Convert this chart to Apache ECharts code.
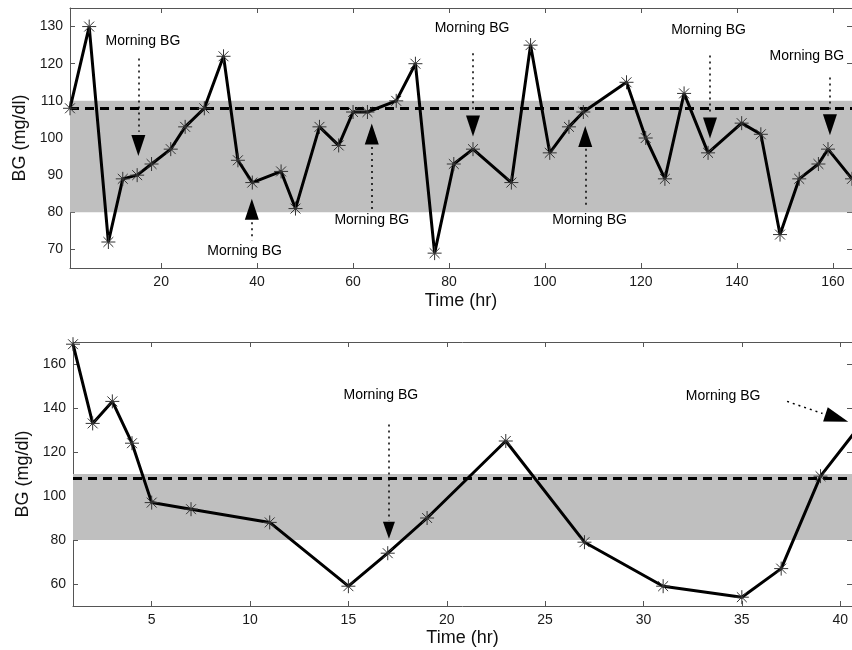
<!DOCTYPE html>
<html>
<head>
<meta charset="utf-8">
<script src="https://cdn.jsdelivr.net/npm/echarts@6/dist/echarts.min.js"></script>
<style>html,body{margin:0;padding:0;background:#fff;}#c{width:852px;height:650px;}</style>
</head>
<body>
<div id="c"></div>
<script>
// ---------- Data: top panel ----------
const topHours = [1,5,9,12,15,18,22,25,29,33,36,39,45,48,53,57,60,63,69,73,77,81,85,93,97,101,105,108,117,121,125,129,134,141,145,149,153,157,159,164];
const topBG    = [108,130,72,89,90,93,97,103,108,122,94,88,91,81,103,98,107,107,110,120,69,93,97,88,125,96,103,107,115,100,89,112,96,104,101,74,89,93,97,89];
const topXTicks = [20,40,60,80,100,120,140,160];
const topYTicks = [70,80,90,100,110,120,130];

// ---------- Data: bottom panel ----------
const botHours = [1,2,3,4,5,7,11,15,17,19,23,27,31,35,37,39,41];
const botBG    = [169,133,143,124,97,94,88,59,74,90,125,79,59,54,67,109,132];
const botXTicks = [5,10,15,20,25,30,35,40];
const botYTicks = [60,80,100,120,140,160];

// target band and mean
const bandLow = 80, bandHigh = 110, meanBG = 108;

// ---------- Annotations (data coordinates) ----------
const annLabel = 'Morning BG';
const topArrowX   = [15.25, 38.9, 63.9, 85.0, 108.4, 134.4, 159.4];
const topArrowRot = [180, 0, 0, 180, 0, 180, 180];
const topHeadY    = [98.0, 80.8, 101.1, 103.2, 100.4, 102.7, 103.6];
const topStemFrom = [121.4, 77.3, 97.6, 122.8, 97.1, 122.2, 116.3];
const topStemTo   = [101.7, 72.4, 80.8, 107.1, 81.6, 106.5, 107.0];
const topTextX    = [16.2, 37.4, 63.9, 84.8, 109.3, 134.1, 154.6];
const topTextY    = [126.0, 69.5, 77.9, 129.5, 77.9, 129.0, 122.0];

const botHeads = [[17.06, 84.4, 180, 12, 17], [39.83, 135.4, -108, 15, 24]];
const botStems = [[[17.06, 132.5], [17.06, 88.7]], [[37.3, 143.0], [39.1, 137.5]]];
const botTexts = [[16.65, 145.7], [34.05, 145.3]];

// ---------- Styling ----------
const FONT = 'Liberation Sans';
const AXC = '#555';
const star = 'path://M0,-10L0,10M-10,0L10,0M-7.07,-7.07L7.07,7.07M-7.07,7.07L7.07,-7.07';

function pairs(xs, ys) { return xs.map((x, i) => [x, ys[i]]); }

function xAxes(gi, min, max, ticks, nameGap) {
  return [
    { type: 'value', gridIndex: gi, position: 'bottom', min, max,
      name: 'Time (hr)', nameLocation: 'middle', nameGap,
      nameTextStyle: { fontFamily: FONT, fontSize: 18, color: '#111' },
      axisLine: { show: true, lineStyle: { color: AXC, width: 1 } },
      axisTick: { show: true, inside: true, length: 5, customValues: ticks, lineStyle: { color: AXC } },
      axisLabel: { show: true, customValues: ticks, margin: 7, fontFamily: FONT, fontSize: 14, color: '#1a1a1a' },
      splitLine: { show: false } },
    { type: 'value', gridIndex: gi, position: 'top', min, max,
      axisLine: { show: true, lineStyle: { color: AXC, width: 1 } },
      axisTick: { show: true, inside: true, length: 5, customValues: ticks, lineStyle: { color: AXC } },
      axisLabel: { show: false }, splitLine: { show: false } }
  ];
}
function yAxes(gi, min, max, ticks) {
  return [
    { type: 'value', gridIndex: gi, position: 'left', min, max,
      name: 'BG (mg/dl)', nameLocation: 'middle', nameGap: 38, nameRotate: 90,
      nameTextStyle: { fontFamily: FONT, fontSize: 18, color: '#111' },
      axisLine: { show: true, lineStyle: { color: AXC, width: 1 } },
      axisTick: { show: true, inside: true, length: 5, customValues: ticks, lineStyle: { color: AXC } },
      axisLabel: { show: true, customValues: ticks, margin: 7, fontFamily: FONT, fontSize: 14, color: '#1a1a1a' },
      splitLine: { show: false } },
    { type: 'value', gridIndex: gi, position: 'right', min, max,
      axisLine: { show: true, lineStyle: { color: AXC, width: 1 } },
      axisTick: { show: true, inside: true, length: 5, customValues: ticks, lineStyle: { color: AXC } },
      axisLabel: { show: false }, splitLine: { show: false } }
  ];
}

function bandSeries(xi, yi, data) {
  return {
    type: 'line', xAxisIndex: xi, yAxisIndex: yi, data, showSymbol: false, silent: true, z: 1,
    lineStyle: { width: 0, opacity: 0 },
    markArea: { silent: true, itemStyle: { color: '#bfbfbf', opacity: 1 },
      data: [[{ yAxis: bandLow }, { yAxis: bandHigh }]] },
    markLine: { silent: true, symbol: ['none', 'none'], label: { show: false },
      lineStyle: { color: '#000', width: 3, type: [9, 6], opacity: 1 },
      data: [{ yAxis: meanBG }] }
  };
}
function mainSeries(xi, yi, data) {
  return {
    type: 'line', xAxisIndex: xi, yAxisIndex: yi, data, z: 5,
    symbol: star, symbolSize: 14, showSymbol: true,
    lineStyle: { color: '#000', width: 3 },
    itemStyle: { color: '#333', borderColor: '#333', borderWidth: 1, opacity: 1 },
    clip: true
  };
}
function annSeries(xi, yi, heads, stems, texts) {
  return [
    { type: 'scatter', xAxisIndex: xi, yAxisIndex: yi, z: 4, silent: true,
      symbol: 'triangle',
      itemStyle: { color: '#000', opacity: 1 },
      data: heads.map(h => ({ value: [h[0], h[1]], symbolRotate: h[2], symbolSize: [h[3], h[4]] })),
      markLine: { silent: true, symbol: ['none', 'none'], label: { show: false },
        lineStyle: { color: '#000', width: 1.5, type: [2, 4], opacity: 1 },
        data: stems.map(s => [{ coord: s[0] }, { coord: s[1] }]) } },
    { type: 'scatter', xAxisIndex: xi, yAxisIndex: yi, z: 4, silent: true,
      symbolSize: 0,
      itemStyle: { opacity: 1 },
      data: texts.map(t => ({ value: t })),
      label: { show: true, position: 'inside', formatter: annLabel, opacity: 1,
        fontFamily: FONT, fontSize: 14, color: '#000' } }
  ];
}

const topHeads = topArrowX.map((x, i) => [x, topHeadY[i], topArrowRot[i], 14, 21]);
const topStems = topArrowX.map((x, i) => [[x, topStemFrom[i]], [x, topStemTo[i]]]);
const topTexts = topTextX.map((x, i) => [x, topTextY[i]]);

const chart = echarts.init(document.getElementById('c'), null, { renderer: 'canvas' });
const topData = pairs(topHours, topBG);
const botData = pairs(botHours, botBG);

chart.setOption({
  animation: false,
  backgroundColor: '#fff',
  grid: [
    { left: 70, top: 8, width: 782, height: 260 },
    { left: 73, top: 342, width: 779, height: 264 }
  ],
  xAxis: [].concat(xAxes(0, 1, 164, topXTicks, 24), xAxes(1, 1, 40.6, botXTicks, 23)),
  yAxis: [].concat(yAxes(0, 65, 135, topYTicks), yAxes(1, 50, 170, botYTicks)),
  series: [
    bandSeries(0, 0, topData),
    mainSeries(0, 0, topData),
    ...annSeries(0, 0, topHeads, topStems, topTexts),
    bandSeries(2, 2, botData),
    mainSeries(2, 2, botData),
    ...annSeries(2, 2, botHeads, botStems, botTexts)
  ]
});
</script>
</body>
</html>
